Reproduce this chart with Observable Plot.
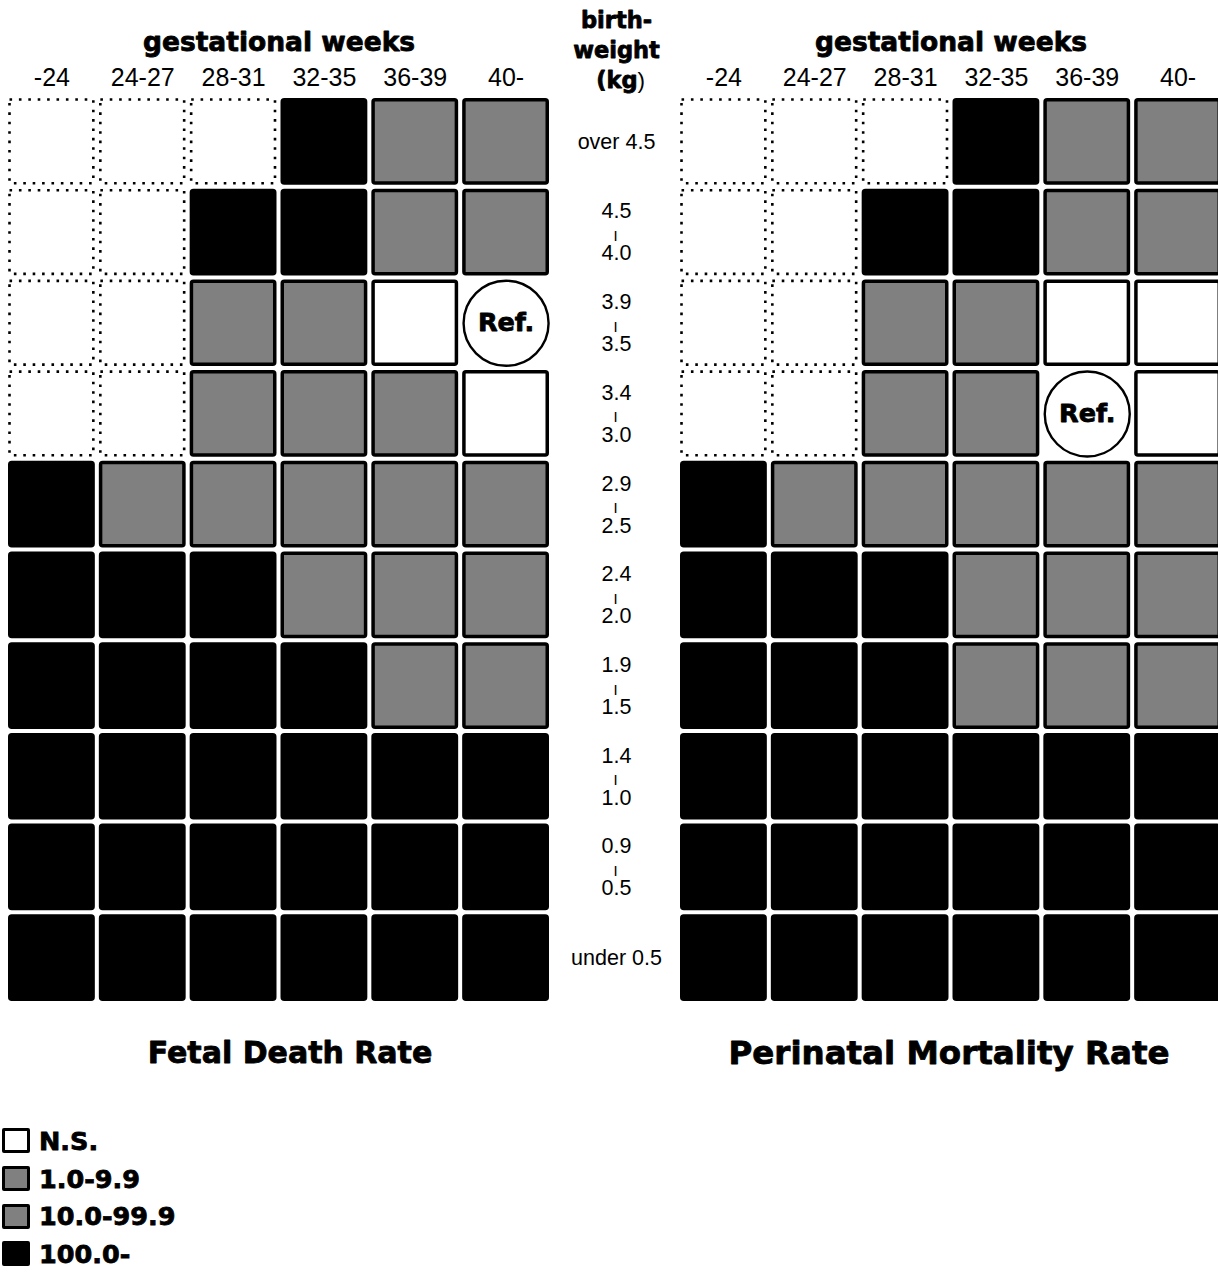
<!DOCTYPE html>
<html>
<head>
<meta charset="utf-8">
<script src="https://cdn.jsdelivr.net/npm/d3@7"></script>
<script src="https://cdn.jsdelivr.net/npm/@observablehq/plot@0.6"></script>
<style>
  html, body { margin: 0; padding: 0; background: #fff; overflow: hidden; }
  #chart svg { display: block; max-width: none !important; height: auto; }
  .legend { padding-top: 22px; padding-left: 2px; font-family: "DejaVu Sans", sans-serif; font-weight: bold; font-size: 25.5px; -webkit-text-stroke: 0.8px #000; }
  .item { display: flex; align-items: center; height: 37.7px; }
  .sw { width: 22px; height: 19px; border: 3px solid #000; border-radius: 2px; margin-right: 9px; box-sizing: content-box; }
</style>
</head>
<body>
<div id="chart"></div>
<div class="legend" id="legend"></div>
<script>
// ---- data ----
const panels = ["Fetal Death Rate", "Perinatal Mortality Rate"];
const weeks = ["-24", "24-27", "28-31", "32-35", "36-39", "40-"];
const weightBands = ["over 4.5", "4.5-4.0", "3.9-3.5", "3.4-3.0", "2.9-2.5", "2.4-2.0", "1.9-1.5", "1.4-1.0", "0.9-0.5", "under 0.5"];
const classes = ["N.S.", "1.0-9.9", "10.0-99.9", "100.0-", "no data", "Ref."];
const classColors = ["white", "#808080", "#808080", "black", "white", "white"];
const legendClasses = ["N.S.", "1.0-9.9", "10.0-99.9", "100.0-"];

// rows: birthweight bands (top to bottom), columns: gestational weeks
const fetalDeathRate = [
  ["no data", "no data", "no data", "100.0-", "10.0-99.9", "1.0-9.9"],
  ["no data", "no data", "100.0-", "100.0-", "10.0-99.9", "1.0-9.9"],
  ["no data", "no data", "10.0-99.9", "10.0-99.9", "N.S.", "Ref."],
  ["no data", "no data", "10.0-99.9", "10.0-99.9", "1.0-9.9", "N.S."],
  ["100.0-", "10.0-99.9", "10.0-99.9", "10.0-99.9", "1.0-9.9", "1.0-9.9"],
  ["100.0-", "100.0-", "100.0-", "10.0-99.9", "10.0-99.9", "1.0-9.9"],
  ["100.0-", "100.0-", "100.0-", "100.0-", "10.0-99.9", "10.0-99.9"],
  ["100.0-", "100.0-", "100.0-", "100.0-", "100.0-", "100.0-"],
  ["100.0-", "100.0-", "100.0-", "100.0-", "100.0-", "100.0-"],
  ["100.0-", "100.0-", "100.0-", "100.0-", "100.0-", "100.0-"]
];
const perinatalMortalityRate = [
  ["no data", "no data", "no data", "100.0-", "10.0-99.9", "1.0-9.9"],
  ["no data", "no data", "100.0-", "100.0-", "10.0-99.9", "1.0-9.9"],
  ["no data", "no data", "10.0-99.9", "10.0-99.9", "N.S.", "N.S."],
  ["no data", "no data", "10.0-99.9", "10.0-99.9", "Ref.", "N.S."],
  ["100.0-", "10.0-99.9", "10.0-99.9", "10.0-99.9", "1.0-9.9", "1.0-9.9"],
  ["100.0-", "100.0-", "100.0-", "10.0-99.9", "10.0-99.9", "1.0-9.9"],
  ["100.0-", "100.0-", "100.0-", "10.0-99.9", "10.0-99.9", "10.0-99.9"],
  ["100.0-", "100.0-", "100.0-", "100.0-", "100.0-", "100.0-"],
  ["100.0-", "100.0-", "100.0-", "100.0-", "100.0-", "100.0-"],
  ["100.0-", "100.0-", "100.0-", "100.0-", "100.0-", "100.0-"]
];

// ---- build table ----
const tables = [fetalDeathRate, perinatalMortalityRate];
const cells = [];
panels.forEach((p, pi) => {
  tables[pi].forEach((row, ri) => {
    row.forEach((cls, ci) => {
      cells.push({panel: p, weight: weightBands[ri], week: weeks[ci], cls});
    });
  });
});
const solid = cells.filter(d => d.cls !== "no data" && d.cls !== "Ref.");
const dotted = cells.filter(d => d.cls === "no data");
const refs = cells.filter(d => d.cls === "Ref.");
const panelRows = panels.map(p => ({panel: p}));

const rangeRows = weightBands.filter(b => !b.startsWith("over") && !b.startsWith("under"));
const singleRows = weightBands.filter(b => b.startsWith("over") || b.startsWith("under"));

const SANS = "'Liberation Sans', Arial, sans-serif";
const NARROW = "'Liberation Sans Narrow', 'Arial Narrow', 'Liberation Sans', sans-serif";
const HEAVY = "'DejaVu Sans', sans-serif";
const LEFT = panels[0];
const MID = 65; // offset from the left panel's right edge to the centre column
const heavy = {fontFamily: HEAVY, fontWeight: "bold", fill: "black", stroke: "black", strokeWidth: 0.8, lineAnchor: "middle"};

const chart = Plot.plot({
  width: 1225,
  height: 1100,
  marginLeft: 6,
  marginRight: 2,
  marginTop: 96,
  marginBottom: 97,
  style: {fontFamily: SANS, background: "white", maxWidth: "none"},
  fx: {domain: panels, paddingInner: 0.189, paddingOuter: 0, round: false, axis: null},
  x: {domain: weeks, padding: 0, round: false, axis: null},
  y: {domain: weightBands, padding: 0, round: false, axis: null},
  color: {domain: classes, range: classColors},
  marks: [
    Plot.cell(dotted, {fx: "panel", x: "week", y: "weight", fill: "white", stroke: "black",
      strokeWidth: 2.6, strokeDasharray: "2.6,6.8", inset: 3.5}),
    Plot.cell(solid, {fx: "panel", x: "week", y: "weight", fill: "cls", stroke: "black",
      strokeWidth: 3.5, inset: 3.75, rx: 2}),
    Plot.dot(refs, {fx: "panel", x: "week", y: "weight", r: 42.5, fill: "white", stroke: "black", strokeWidth: 2.4}),
    Plot.text(refs, {fx: "panel", x: "week", y: "weight", text: d => d.cls, fontSize: 25.5, ...heavy}),
    // column header
    Plot.text(panelRows, {fx: "panel", text: () => "gestational weeks", frameAnchor: "top", dy: -54,
      fontSize: 26.5, ...heavy}),
    Plot.text(weeks, {x: d => d, text: d => d, frameAnchor: "top", lineAnchor: "middle", dy: -19,
      fontSize: 25, fontFamily: NARROW}),
    // facet titles
    Plot.text([panels[0]], {fx: d => d, text: d => d, frameAnchor: "bottom", dy: 50, dx: 11,
      fontSize: 30, ...heavy}),
    Plot.text([panels[1]], {fx: d => d, text: d => d, frameAnchor: "bottom", dy: 50, dx: -2,
      fontSize: 32.5, ...heavy}),
    // middle birthweight header
    Plot.text(["birth-"], {fx: () => LEFT, text: d => d, frameAnchor: "top-right", dx: MID, dy: -76,
      textAnchor: "middle", fontSize: 22.5, ...heavy}),
    Plot.text(["weight"], {fx: () => LEFT, text: d => d, frameAnchor: "top-right", dx: MID, dy: -46,
      textAnchor: "middle", fontSize: 22.5, ...heavy}),
    Plot.text(["(kg"], {fx: () => LEFT, text: d => d, frameAnchor: "top-right", dx: MID + 21, dy: -16,
      textAnchor: "end", fontSize: 22.5, ...heavy}),
    Plot.text([")"], {fx: () => LEFT, text: d => d, frameAnchor: "top-right", lineAnchor: "middle", dx: MID + 21, dy: -16,
      textAnchor: "start", fontSize: 22.5, fontFamily: SANS}),
    // middle row labels
    Plot.text(singleRows, {fx: () => LEFT, y: d => d, text: d => d, frameAnchor: "right", dx: MID,
      textAnchor: "middle", fontSize: 21.5}),
    Plot.text(rangeRows, {fx: () => LEFT, y: d => d, text: d => d.split("-")[0], frameAnchor: "right", dx: MID,
      dy: -21, textAnchor: "middle", fontSize: 21.5}),
    Plot.text(rangeRows, {fx: () => LEFT, y: d => d, text: d => d.split("-")[1], frameAnchor: "right", dx: MID,
      dy: 21, textAnchor: "middle", fontSize: 21.5}),
    Plot.text(rangeRows, {fx: () => LEFT, y: d => d, text: () => "|", frameAnchor: "right", dx: MID - 1,
      dy: 3, textAnchor: "middle", fontSize: 11, fontWeight: "bold"})
  ]
});

document.getElementById("chart").append(chart);

// legend
const legend = document.getElementById("legend");
legendClasses.forEach((c) => {
  const item = document.createElement("div");
  item.className = "item";
  const sw = document.createElement("div");
  sw.className = "sw";
  sw.style.background = classColors[classes.indexOf(c)];
  const t = document.createElement("span");
  t.textContent = c;
  item.append(sw, t);
  legend.append(item);
});
</script>
</body>
</html>
